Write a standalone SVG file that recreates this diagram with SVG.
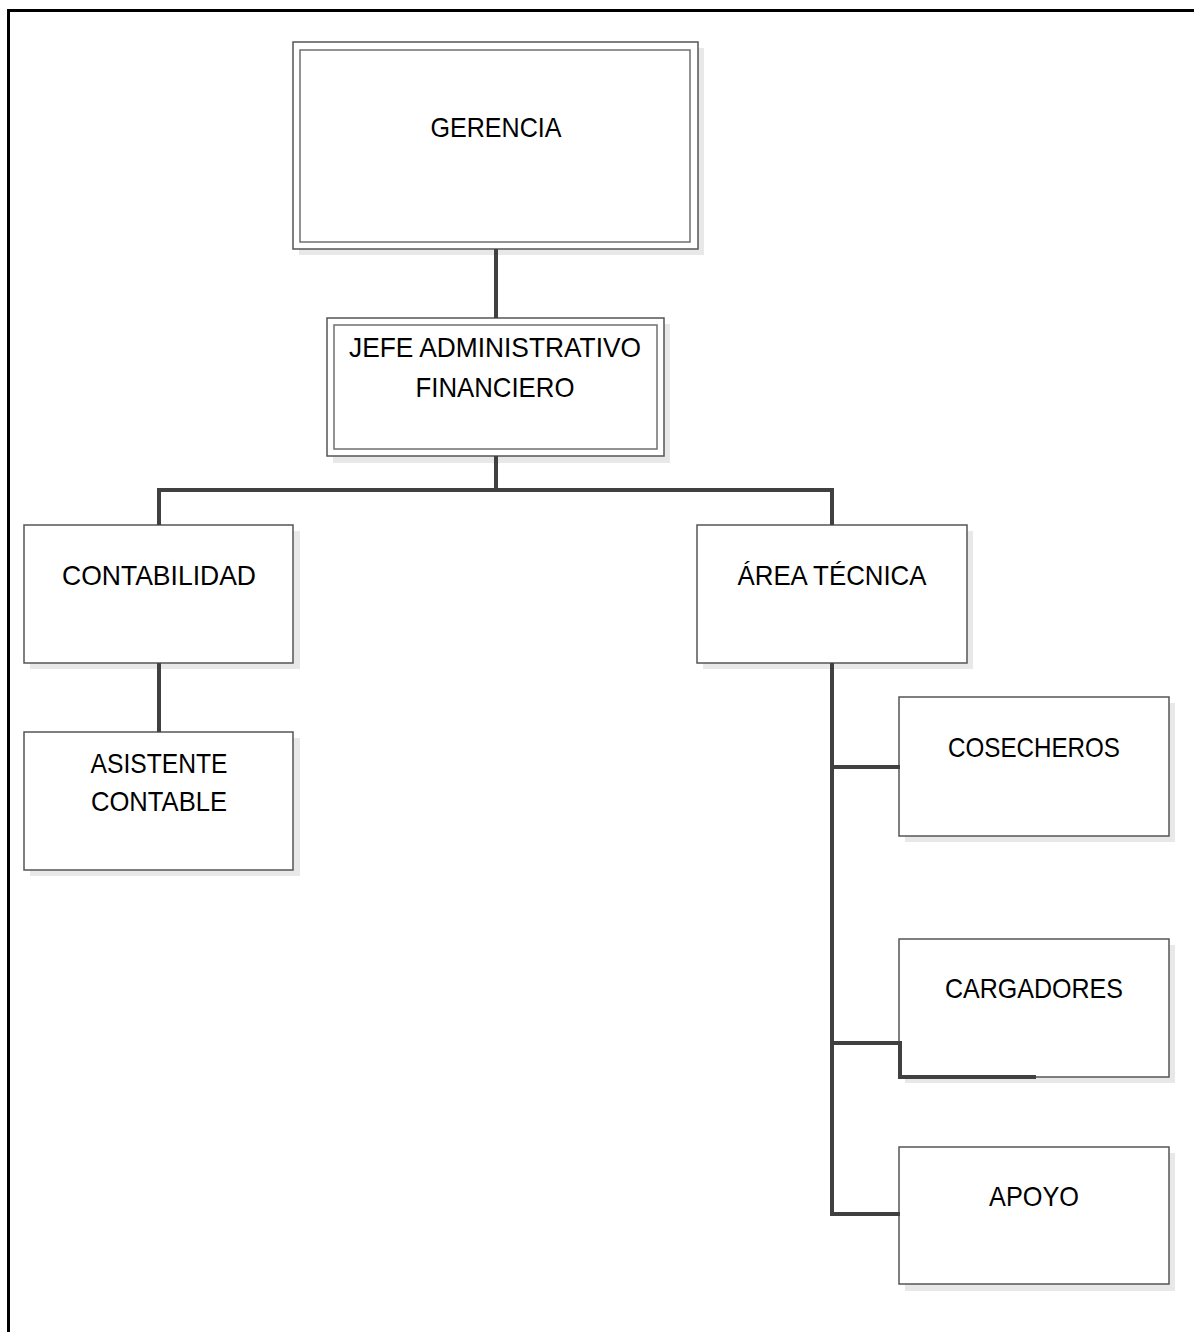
<svg xmlns="http://www.w3.org/2000/svg" width="1194" height="1332" viewBox="0 0 1194 1332">
  <style>
    .shadow { fill: #e8e8e8; }
    .box { fill: #ffffff; stroke: #555555; stroke-width: 1.5; }
    .inner { fill: none; stroke: #6f6f6f; stroke-width: 1.5; }
    .label { font-family: "Liberation Sans", Arial, sans-serif; font-size: 28px; fill: #000000; text-anchor: middle; }
    .link { fill: none; stroke: #404040; stroke-width: 4; stroke-linejoin: miter; }
  </style>
  <defs>
    <linearGradient id="fadeBottom" x1="0" y1="0" x2="0" y2="1">
      <stop offset="0.75" stop-color="#ffffff"/>
      <stop offset="1" stop-color="#f1f1f1"/>
    </linearGradient>
  </defs>

  <rect width="1194" height="1332" fill="#ffffff"/>
  <!-- page frame -->
  <path d="M8.5,1332 V10.5 H1194" fill="none" stroke="#000000" stroke-width="3"/>

  <g id="gerencia">
    <rect class="shadow" x="299" y="48" width="405" height="207"/>
    <rect class="box" x="293" y="42" width="405" height="207"/>
    <rect class="inner" x="300" y="50" width="390" height="192"/>
    <text class="label" x="496" y="137" textLength="131" lengthAdjust="spacingAndGlyphs">GERENCIA</text>
  </g>

  <g id="jefe-administrativo">
    <rect class="shadow" x="333" y="324" width="337" height="139"/>
    <rect class="box" x="327" y="318" width="337" height="138"/>
    <rect class="inner" x="334" y="325" width="323" height="124"/>
    <text class="label" x="495" y="357" textLength="292" lengthAdjust="spacingAndGlyphs">JEFE ADMINISTRATIVO</text>
    <text class="label" x="495" y="397" textLength="159" lengthAdjust="spacingAndGlyphs">FINANCIERO</text>
  </g>

  <g id="contabilidad">
    <rect class="shadow" x="30" y="531" width="270" height="138"/>
    <rect class="box" x="24" y="525" width="269" height="138"/>
    <text class="label" x="159" y="585" textLength="194" lengthAdjust="spacingAndGlyphs">CONTABILIDAD</text>
  </g>

  <g id="asistente-contable">
    <rect class="shadow" x="30" y="738" width="270" height="138"/>
    <rect class="box" x="24" y="732" width="269" height="138"/>
    <text class="label" x="159" y="773" textLength="137" lengthAdjust="spacingAndGlyphs">ASISTENTE</text>
    <text class="label" x="159" y="811" textLength="136" lengthAdjust="spacingAndGlyphs">CONTABLE</text>
  </g>

  <g id="area-tecnica">
    <rect class="shadow" x="703" y="531" width="270" height="138"/>
    <rect class="box" x="697" y="525" width="270" height="138"/>
    <text class="label" x="832" y="585" textLength="189" lengthAdjust="spacingAndGlyphs">ÁREA TÉCNICA</text>
  </g>

  <g id="cosecheros">
    <rect class="shadow" x="905" y="703" width="270" height="139"/>
    <rect class="box" x="899" y="697" width="270" height="139"/>
    <text class="label" x="1034" y="757" textLength="172" lengthAdjust="spacingAndGlyphs">COSECHEROS</text>
  </g>

  <g id="cargadores">
    <rect class="shadow" x="905" y="945" width="270" height="138"/>
    <rect class="box" x="899" y="939" width="270" height="138"/>
    <text class="label" x="1034" y="998" textLength="178" lengthAdjust="spacingAndGlyphs">CARGADORES</text>
  </g>

  <g id="apoyo">
    <rect class="shadow" x="905" y="1153" width="270" height="138"/>
    <rect class="box" x="899" y="1147" width="270" height="137" fill="url(#fadeBottom)"/>
    <text class="label" x="1034" y="1206" textLength="90" lengthAdjust="spacingAndGlyphs">APOYO</text>
  </g>

  <!-- connectors sit above the boxes and their shadows -->
  <g id="connectors">
    <line class="link" x1="496" y1="249" x2="496" y2="318"/>
    <line class="link" x1="496" y1="456" x2="496" y2="490"/>
    <path class="link" d="M159,525 V490 H832 V525"/>
    <line class="link" x1="159" y1="663" x2="159" y2="732"/>
    <path class="link" d="M832,663 V1214 H900"/>
    <line class="link" x1="832" y1="767" x2="900" y2="767"/>
    <path class="link" d="M832,1043 H900 V1077 H1036"/>
  </g>
</svg>
